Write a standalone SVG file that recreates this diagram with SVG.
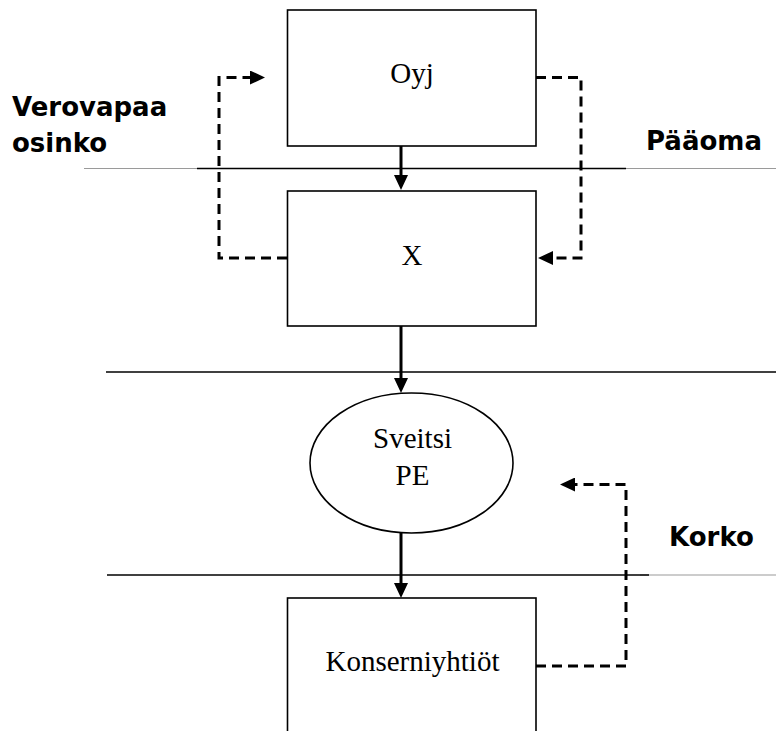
<svg xmlns="http://www.w3.org/2000/svg" width="776" height="731" viewBox="0 0 776 731">
  <style>
    .box { fill: #ffffff; stroke: #000000; stroke-width: 1.6; }
    .node-text { font-family: "Liberation Serif", "Times New Roman", serif; font-size: 29px; fill: #000000; text-anchor: middle; }
    .label { font-family: "DejaVu Sans", Verdana, sans-serif; font-weight: bold; font-size: 26px; fill: #000000; }
    .rule { stroke: #000000; stroke-width: 1.6; fill: none; }
    .rule-grey { stroke: #9a9a9a; stroke-width: 1.2; fill: none; }
    .flow { stroke: #000000; stroke-width: 3; fill: none; marker-end: url(#head); }
    .flow-dash { stroke: #000000; stroke-width: 3; fill: none; stroke-dasharray: 10 6; marker-end: url(#head); }
  </style>
  <defs>
    <marker id="head" viewBox="0 0 15 14" refX="1" refY="7" markerWidth="15" markerHeight="14" markerUnits="userSpaceOnUse" orient="auto">
      <path d="M0,0 L15,7 L0,14 z" fill="#000000"/>
    </marker>
  </defs>

  <!-- level separators -->
  <g id="separators">
    <line class="rule-grey" x1="84" y1="168.5" x2="776" y2="168.5"/>
    <line class="rule" x1="197" y1="168.5" x2="626" y2="168.5"/>
    <line class="rule" x1="106" y1="372" x2="776" y2="372"/>
    <line class="rule-grey" x1="640" y1="575" x2="776" y2="575"/>
    <line class="rule" x1="107" y1="575" x2="649" y2="575"/>
  </g>

  <!-- side labels -->
  <g id="labels">
    <text class="label" x="12" y="116">Verovapaa</text>
    <text class="label" x="12" y="152">osinko</text>
    <text class="label" x="646" y="150">Pääoma</text>
    <text class="label" x="669" y="546">Korko</text>
  </g>

  <g id="connectors">
    <path class="flow" d="M401,146 V176"/>
    <path class="flow" d="M401,326 V379"/>
    <path class="flow" d="M401,533 V584"/>
    <path class="flow-dash" d="M287,258 H219 V77.5 H251"/>
    <path class="flow-dash" d="M536,77.5 H581 V258 H552"/>
    <path class="flow-dash" d="M536,666 H626 V484.5 H574"/>
  </g>

  <g id="node-oyj">
    <rect class="box" x="287.5" y="10" width="248.5" height="136"/>
    <text class="node-text" x="412" y="83">Oyj</text>
  </g>

  <g id="node-x">
    <rect class="box" x="287.5" y="191" width="248.5" height="135"/>
    <text class="node-text" x="412" y="265">X</text>
  </g>

  <g id="node-sveitsi-pe">
    <ellipse class="box" cx="411.5" cy="463" rx="101.5" ry="70"/>
    <text class="node-text" x="412.5" y="448">Sveitsi</text>
    <text class="node-text" x="412.5" y="485">PE</text>
  </g>

  <g id="node-konserniyhtiot">
    <rect class="box" x="287.5" y="598" width="248.5" height="160"/>
    <text class="node-text" x="412.5" y="671">Konserniyhtiöt</text>
  </g>
</svg>
